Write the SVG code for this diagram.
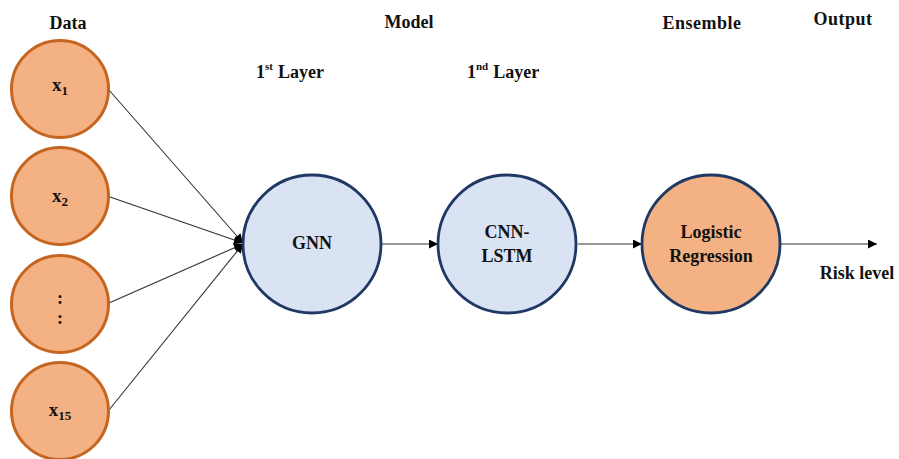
<svg xmlns="http://www.w3.org/2000/svg" width="899" height="459" viewBox="0 0 899 459">
<style>
text{font-family:'Liberation Serif','Times New Roman',Times,serif;font-weight:bold;fill:#111}
.h{font-size:18px;text-anchor:middle}
.n{font-size:18px;text-anchor:middle}
.data{fill:#F4B183;stroke:#C5651F;stroke-width:3}
.model{fill:#DAE3F3;stroke:#1F3864;stroke-width:2.8}
.ens{fill:#F4B183;stroke:#1F3864;stroke-width:2.8}
.c{stroke:#333;stroke-width:1.1;fill:none;marker-end:url(#ah)}
</style>
<defs>
<marker id="ah" viewBox="0 0 10 10" refX="10" refY="5" markerWidth="11" markerHeight="9" markerUnits="userSpaceOnUse" orient="auto">
<path d="M0,0 L10,5 L0,10 z" fill="#000"/>
</marker>
</defs>
<rect width="899" height="459" fill="#fff"/>
<g id="headers">
<text class="h" x="68" y="29">Data</text>
<text class="h" x="409" y="28">Model</text>
<text class="h" x="702" y="29" letter-spacing="0.5">Ensemble</text>
<text class="h" x="843" y="25" letter-spacing="0.5">Output</text>
<text x="256" y="78" font-size="18">1<tspan font-size="11" dy="-8">st</tspan><tspan dy="8" dx="5">Layer</tspan></text>
<text x="467" y="78" font-size="18">1<tspan font-size="11" dy="-8">nd</tspan><tspan dy="8" dx="5">Layer</tspan></text>
</g>
<g id="connectors">
<line class="c" x1="109" y1="90" x2="243" y2="243"/>
<line class="c" x1="110" y1="197" x2="243" y2="243"/>
<line class="c" x1="109" y1="303" x2="243" y2="244"/>
<line class="c" x1="109" y1="410" x2="243" y2="244"/>
<line class="c" x1="382" y1="244" x2="438" y2="244"/>
<line class="c" x1="578" y1="244" x2="642" y2="244"/>
<line class="c" x1="781" y1="244" x2="877" y2="244"/>
</g>
<g id="x1">
<circle class="data" cx="60" cy="89" r="48.5"/>
<text x="60" y="91" font-size="19" text-anchor="middle">x<tspan font-size="13" dy="4">1</tspan></text>
</g>
<g id="x2">
<circle class="data" cx="60" cy="196" r="48.5"/>
<text x="60" y="202" font-size="19" text-anchor="middle">x<tspan font-size="13" dy="4">2</tspan></text>
</g>
<g id="xdots">
<circle class="data" cx="60" cy="304" r="48.5"/>
<text class="n" x="60" y="304">:</text>
<text class="n" x="60" y="324">:</text>
</g>
<g id="x15">
<circle class="data" cx="60" cy="411" r="48.5"/>
<text x="60" y="416" font-size="19" text-anchor="middle">x<tspan font-size="13" dy="4">15</tspan></text>
</g>
<g id="gnn">
<circle class="model" cx="312" cy="244" r="69"/>
<text class="n" x="312" y="249">GNN</text>
</g>
<g id="cnnlstm">
<circle class="model" cx="507" cy="244" r="69"/>
<text class="n" x="507" y="238">CNN-</text>
<text class="n" x="507" y="262">LSTM</text>
</g>
<g id="logistic">
<circle class="ens" cx="711" cy="244" r="69"/>
<text class="n" x="711" y="238">Logistic</text>
<text class="n" x="711" y="262">Regression</text>
</g>
<g id="output">
<text class="n" x="857" y="279">Risk level</text>
</g>
</svg>
